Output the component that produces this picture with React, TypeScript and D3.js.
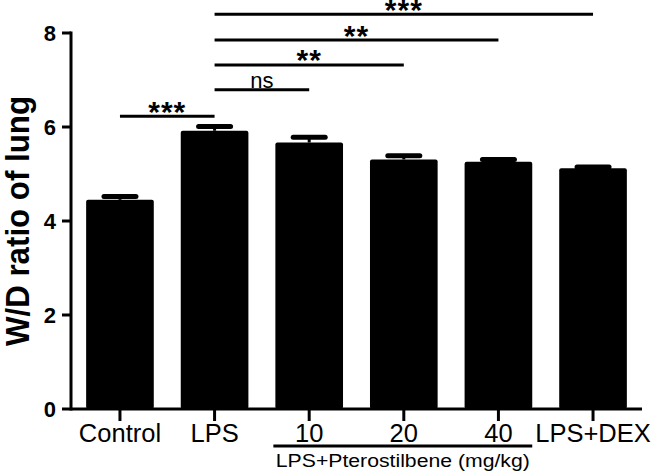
import React from 'react';
import * as d3 from 'd3';

const categories = ['Control', 'LPS', '10', '20', '40', 'LPS+DEX'];
const means = [4.45, 5.92, 5.67, 5.31, 5.26, 5.12];
const errors = [0.07, 0.09, 0.11, 0.08, 0.05, 0.03];
const yTicks = [0, 2, 4, 6, 8];
const sigFrom = ['Control', 'LPS', 'LPS', 'LPS', 'LPS'];
const sigTo = ['LPS', '10', '20', '40', 'LPS+DEX'];
const sigLevel = [6.23, 6.79, 7.32, 7.85, 8.4];
const sigLabel = ['***', 'ns', '**', '**', '***'];
const groupLabel = 'LPS+Pterostilbene (mg/kg)';
const groupFrom = '10';
const groupTo = '40';
const yTitle = 'W/D ratio of lung';

const W = 657;
const H = 474;
const FONT = '"Liberation Sans", Arial, Helvetica, sans-serif';

export default function App() {
  const y = d3.scaleLinear().domain([0, 8]).range([409, 33]);
  const x = d3
    .scaleBand<string>()
    .domain(categories)
    .range([71, 642])
    .paddingInner(0.285)
    .paddingOuter(0.16);
  const bw = x.bandwidth();
  const cx = (c: string) => (x(c) as number) + bw / 2;
  const x0 = 71;
  const y0 = y(0);

  return (
    <svg
      width={W}
      height={H}
      style={{ position: 'absolute', left: 0, top: 0, background: '#fff' }}
      fontFamily={FONT}
    >
      {/* bars */}
      {categories.map((c, i) => (
        <rect
          key={c}
          x={x(c)}
          y={y(means[i])}
          width={bw}
          height={y0 - y(means[i])}
          rx={2}
          fill="#000"
        />
      ))}
      {/* error bars */}
      {categories.map((c, i) => (
        <g key={'e' + c}>
          <line
            x1={cx(c)}
            x2={cx(c)}
            y1={y(means[i])}
            y2={y(means[i] + errors[i])}
            stroke="#000"
            strokeWidth={3}
          />
          <line
            x1={cx(c) - 16}
            x2={cx(c) + 16}
            y1={y(means[i] + errors[i])}
            y2={y(means[i] + errors[i])}
            stroke="#000"
            strokeWidth={5}
            strokeLinecap="round"
          />
        </g>
      ))}
      {/* y axis */}
      <line x1={x0} x2={x0} y1={y(8) - 1.5} y2={y0 + 1.5} stroke="#000" strokeWidth={3} />
      {yTicks.map((t) => (
        <g key={'yt' + t}>
          <line x1={x0 - 9} x2={x0} y1={y(t)} y2={y(t)} stroke="#000" strokeWidth={3} />
          <text
            x={x0 - 15}
            y={y(t)}
            dy="0.36em"
            textAnchor="end"
            fontSize={22}
            fontWeight="bold"
          >
            {t}
          </text>
        </g>
      ))}
      {/* x axis */}
      <line x1={x0} x2={642} y1={y0} y2={y0} stroke="#000" strokeWidth={3} />
      {categories.map((c) => (
        <g key={'xt' + c}>
          <line x1={cx(c)} x2={cx(c)} y1={y0} y2={y0 + 12} stroke="#000" strokeWidth={3} />
          <text x={cx(c)} y={442} textAnchor="middle" fontSize={25.5}>
            {c}
          </text>
        </g>
      ))}
      {/* group bracket */}
      <line
        x1={(x(groupFrom) as number) - 2}
        x2={(x(groupTo) as number) + bw}
        y1={446}
        y2={446}
        stroke="#000"
        strokeWidth={3}
      />
      <text
        x={((x(groupFrom) as number) - 2 + (x(groupTo) as number) + bw) / 2}
        y={467}
        textAnchor="middle"
        fontSize={18}
        textLength={254}
        lengthAdjust="spacingAndGlyphs"
      >
        {groupLabel}
      </text>
      {/* y title */}
      <text
        transform={`translate(29, ${(y(0) + y(8)) / 2}) rotate(-90) scale(1, 1.1)`}
        x={0}
        y={0}
        textAnchor="middle"
        fontSize={30}
        fontWeight="bold"
        textLength={250}
        lengthAdjust="spacingAndGlyphs"
      >
        {yTitle}
      </text>
      {/* significance */}
      {sigFrom.map((f, i) => {
        const xa = cx(f);
        const xb = cx(sigTo[i]);
        const ly = y(sigLevel[i]);
        const isNs = sigLabel[i] === 'ns';
        return (
          <g key={'s' + i}>
            <line x1={xa} x2={xb} y1={ly} y2={ly} stroke="#000" strokeWidth={3} />
            {isNs ? (
              <text x={(xa + xb) / 2} y={ly - 2} textAnchor="middle" fontSize={22}>
                {sigLabel[i]}
              </text>
            ) : (
              <text
                x={(xa + xb) / 2}
                y={ly + 5.5}
                textAnchor="middle"
                fontSize={30}
                fontWeight="bold"
                letterSpacing={1}
              >
                {sigLabel[i]}
              </text>
            )}
          </g>
        );
      })}
    </svg>
  );
}
